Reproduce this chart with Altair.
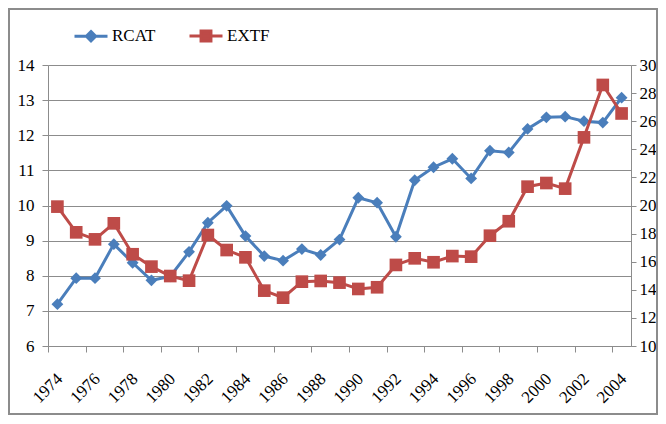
import altair as alt
import pandas as pd

years = list(range(1974, 2005))
rcat = [7.19, 7.93, 7.93, 8.90, 8.37, 7.87, 7.98, 8.68, 9.51, 9.99, 9.13,
        8.56, 8.43, 8.76, 8.59, 9.03, 10.22, 10.08, 9.11, 10.72, 11.09,
        11.33, 10.77, 11.56, 11.51, 12.18, 12.51, 12.53, 12.40, 12.36, 13.07]
extf = [19.92, 18.09, 17.59, 18.73, 16.53, 15.65, 14.98, 14.65, 17.90, 16.83, 16.31,
        13.94, 13.44, 14.58, 14.63, 14.51, 14.06, 14.18, 15.77, 16.24, 15.96,
        16.40, 16.36, 17.85, 18.88, 21.34, 21.60, 21.20, 24.85, 28.58, 26.55]
series_names = ["RCAT", "EXTF"]
left_ticks = list(range(6, 15))
right_ticks = list(range(10, 31, 2))
x_tick_values = [1973.5 + 2 * k for k in range(16)]

BLUE = "#4A7EBB"
RED = "#BE4B48"
GRID = "#8C8C8C"
FONT = "'Liberation Serif', 'DejaVu Serif', serif"

W = 583
H = 281
CAT = W / 31.0

df = pd.DataFrame({"year": years, "RCAT": rcat, "EXTF": extf})

x_enc = alt.X(
    "year:Q",
    scale=alt.Scale(domain=[1973.5, 2004.5], nice=False, zero=False),
    axis=alt.Axis(
        values=x_tick_values,
        labelExpr="format(datum.value + 0.5, 'd')",
        labelOffset=CAT / 2 + 2,
        labelAngle=-45,
        labelAlign="right",
        labelBaseline="middle",
        labelPadding=24,
        tickSize=6,
        grid=False,
        title=None,
        domainColor=GRID,
        tickColor=GRID,
        labelFont=FONT,
        labelFontSize=17,
        labelColor="#000000",
        labelFlush=False,
        labelOverlap=False,
    ),
)

rcat_layer = alt.Chart(df).mark_line(
    color=BLUE, strokeWidth=3,
    point=alt.OverlayMarkDef(shape="diamond", filled=True, size=140, color=BLUE, opacity=1),
).encode(
    x=x_enc,
    y=alt.Y(
        "RCAT:Q",
        scale=alt.Scale(domain=[6, 14], nice=False, zero=False),
        axis=alt.Axis(
            orient="left", values=left_ticks, grid=True, gridColor=GRID,
            tickSize=6, labelPadding=8, title=None,
            domainColor=GRID, tickColor=GRID,
            labelFont=FONT, labelFontSize=17, labelColor="#000000",
        ),
    ),
)

extf_layer = alt.Chart(df).mark_line(
    color=RED, strokeWidth=3,
    point=alt.OverlayMarkDef(shape="square", filled=True, size=160, color=RED, opacity=1),
).encode(
    x=x_enc,
    y=alt.Y(
        "EXTF:Q",
        scale=alt.Scale(domain=[10, 30], nice=False, zero=False),
        axis=alt.Axis(
            orient="right", values=right_ticks, grid=False,
            tickSize=5, labelPadding=3, title=None,
            domainColor=GRID, tickColor=GRID,
            labelFont=FONT, labelFontSize=17, labelColor="#000000",
        ),
    ),
)

paths = [
    "M-1,0L1,0M0,-0.28L0.28,0L0,0.28L-0.28,0Z",
    "M-1,0L1,0M-0.3,-0.3L0.3,-0.3L0.3,0.3L-0.3,0.3Z",
]
leg = alt.Legend(
    title=None, orient="none", legendX=25, legendY=-47, direction="horizontal",
    symbolSize=1089, symbolStrokeWidth=3, labelFont=FONT, labelFontSize=17,
    labelColor="#000000", labelOffset=3, columnPadding=27,
)
leg_df = pd.DataFrame({"series": series_names})
legend_layer = alt.Chart(leg_df).mark_point(filled=True, opacity=1).encode(
    shape=alt.Shape("series:N", scale=alt.Scale(domain=series_names, range=paths), legend=leg),
    fill=alt.Fill("series:N", scale=alt.Scale(domain=series_names, range=[BLUE, RED]), legend=leg),
    stroke=alt.Stroke("series:N", scale=alt.Scale(domain=series_names, range=[BLUE, RED]), legend=leg),
).transform_filter("false")

border = alt.Chart(pd.DataFrame({"a": [0]})).mark_rect(
    fillOpacity=0, stroke="#8C8C8C", strokeWidth=2
).encode(
    x=alt.value(-39), x2=alt.value(W + 26), y=alt.value(-56), y2=alt.value(H + 68)
)

chart = alt.layer(border, rcat_layer, extf_layer, legend_layer).resolve_scale(
    y="independent"
).properties(
    width=W, height=H,
    autosize=alt.AutoSizeParams(type="none"),
    padding={"left": 40, "top": 57, "right": 650 - 40 - W, "bottom": 408 - 57 - H},
).configure_view(stroke=None).configure(background="#FFFFFF", font=FONT)

chart.save("out.html", embed_options={"renderer": "svg", "actions": False})
